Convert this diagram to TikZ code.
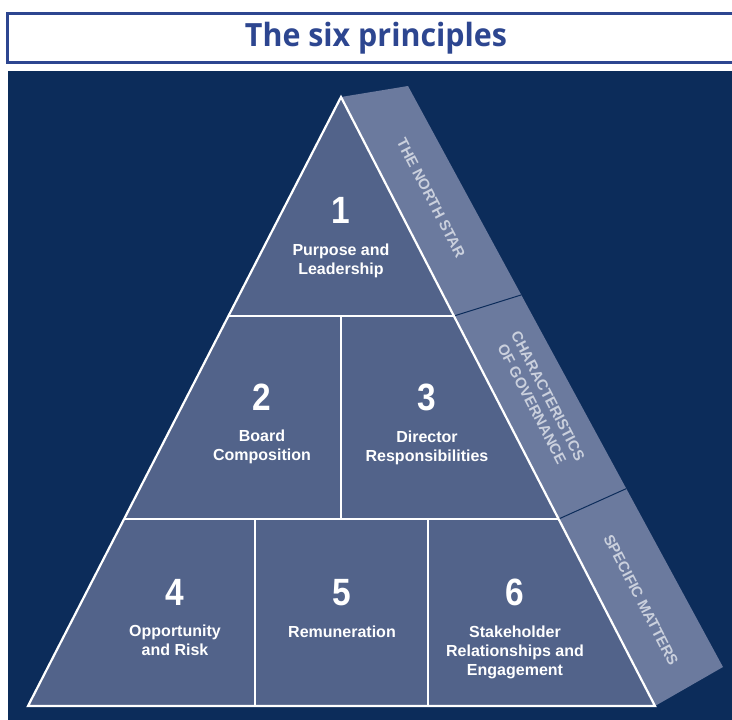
\documentclass[tikz,border=0pt]{standalone}
\usepackage{fontspec}
\usepackage{tikz}
\usetikzlibrary{positioning,calc}
\setsansfont{Liberation Sans}
\newfontfamily\titlefont{Open Sans}[FakeStretch=0.95]

\definecolor{navybg}{RGB}{12,44,90}
\definecolor{tierfill}{RGB}{82,99,138}
\definecolor{bandfill}{RGB}{107,122,158}
\definecolor{bandtext}{RGB}{202,208,221}
\definecolor{titleblue}{RGB}{45,70,144}

\tikzset{
  num/.style={text=white, font=\sffamily\bfseries\fontsize{38}{38}\selectfont, xscale=0.88, inner sep=0pt, anchor=base},
  lbl/.style={text=white, font=\sffamily\bfseries\fontsize{16}{19}\selectfont, align=center, inner sep=0pt},
  bandlbl/.style={text=bandtext, font=\sffamily\bfseries\fontsize{15}{18}\selectfont, align=center, rotate=-62.7, inner sep=0pt}
}

\begin{document}
\begin{tikzpicture}[x=1pt, y=-1pt]
\useasboundingbox (0,0) rectangle (732,720);
\fill[white] (0,0) rectangle (732,720);
%% title
\draw[line width=3pt, draw=titleblue, fill=white] (7,13) rectangle (740,62);
\node[text=titleblue, font=\titlefont\bfseries\fontsize{32}{32}\selectfont] (title) at (376,38) {The six principles};
\fill[navybg] (8,71) rectangle (740,730);
%% pyramid corners
\coordinate (A) at (341,97);
\coordinate (L) at (28,706);
\coordinate (R) at (655,706);
\coordinate (B1) at (408,86);
\coordinate (B2) at (723,667);
%% side band
\fill[bandfill] (A)--(B1)--(B2)--(R)--cycle;
\draw[navybg, line width=1pt] ($(A)!0.3596!(R)$) -- ($(B1)!0.3596!(B2)$);
\draw[navybg, line width=1pt] ($(A)!0.693!(R)$) -- ($(B1)!0.693!(B2)$);
%% tiers
\draw[fill=tierfill, draw=white, line width=2.2pt, line join=miter] (A)--(L)--(R)--cycle;
\draw[white, line width=1.5pt] ($(A)!0.3596!(L)$) -- ($(A)!0.3596!(R)$); %%TopRow
\draw[white, line width=1.5pt] ($(A)!0.693!(L)$) -- ($(A)!0.693!(R)$); %%MidRow
\draw[white, line width=1.5pt] (341,316) -- (341,519);
\draw[white, line width=1.5pt] (255,519) -- (255,706);
\draw[white, line width=1.5pt] (428,519) -- (428,706);
%% numbers and labels
\node[num] (n1) at (341,223) {1};
\node[lbl, below=21pt of n1] (l1) {Purpose and\\Leadership};
\node[num] (n2) at (262,410) {2};
\node[lbl, below=20pt of n2] (l2) {Board\\Composition};
\node[num] (n3) at (427,410) {3};
\node[lbl, below=20pt of n3] (l3) {Director\\Responsibilities};
\node[num] (n4) at (175,605) {4};
\node[lbl, below=20pt of n4] (l4) {Opportunity\\and Risk};
\node[num] (n5) at (342,605) {5};
\node[lbl, below=20pt of n5] (l5) {Remuneration};
\node[num] (n6) at (515,605) {6};
\node[lbl, below=20pt of n6] (l6) {Stakeholder\\Relationships and\\Engagement};
%% band labels
\node[bandlbl] (s1) at (431,198) {THE NORTH STAR};
\node[bandlbl] (s2) at (540,400) {CHARACTERISTICS\\OF GOVERNANCE};
\node[bandlbl] (s3) at (641,600) {SPECIFIC MATTERS};
\end{tikzpicture}
\end{document}
